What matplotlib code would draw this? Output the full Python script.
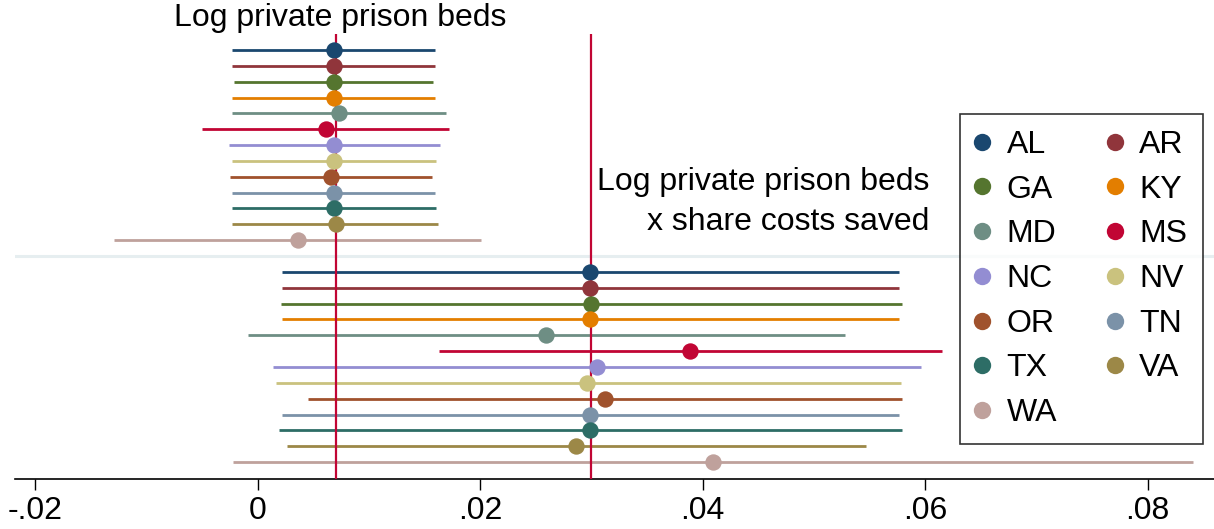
import matplotlib
matplotlib.use("Agg")
import matplotlib.pyplot as plt
from matplotlib.lines import Line2D

plt.rcParams['font.family'] = ['Liberation Sans', 'DejaVu Sans']

states = ["AL", "AR", "GA", "KY", "MD", "MS", "NC", "NV", "OR", "TN", "TX", "VA", "WA"]
colors = ["#1a476f", "#90353b", "#55752f", "#e37e00", "#6e8e84", "#c10534",
          "#938dd2", "#cac27e", "#a0522d", "#7b92a8", "#2d6d66", "#9c8847", "#bfa19c"]

# Coefficient on log private prison beds
beds_b  = [0.0069, 0.0069, 0.0069, 0.0069, 0.0073, 0.0061, 0.0069, 0.0069, 0.0066, 0.0069, 0.0069, 0.0070, 0.0036]
beds_lo = [-0.0023, -0.0023, -0.0021, -0.0023, -0.0023, -0.0050, -0.0026, -0.0023, -0.0025, -0.0023, -0.0023, -0.0023, -0.0129]
beds_hi = [0.0159, 0.0159, 0.0158, 0.0159, 0.0169, 0.0172, 0.0164, 0.0160, 0.0157, 0.0159, 0.0160, 0.0162, 0.0201]

# Coefficient on log private prison beds x share costs saved
inter_b  = [0.0299, 0.0299, 0.0300, 0.0299, 0.0259, 0.0389, 0.0305, 0.0296, 0.0312, 0.0299, 0.0299, 0.0286, 0.0409]
inter_lo = [0.0022, 0.0022, 0.0021, 0.0022, -0.0009, 0.0163, 0.0014, 0.0016, 0.0045, 0.0022, 0.0019, 0.0026, -0.0022]
inter_hi = [0.0576, 0.0576, 0.0579, 0.0576, 0.0528, 0.0615, 0.0596, 0.0578, 0.0579, 0.0576, 0.0579, 0.0547, 0.0841]

# Full-sample estimates shown as reference lines
ref_lines = [0.0070, 0.0300]

xticks = [-0.02, 0, 0.02, 0.04, 0.06, 0.08]
xticklabels = ["-.02", "0", ".02", ".04", ".06", ".08"]

W, H = 1214, 529
fig = plt.figure(figsize=(W / 100, H / 100), dpi=100)
ax = fig.add_axes([15 / W, 1 - 479 / H, 1 - 15 / W, (479 - 34) / H])

FS = 23
n = len(states)
ax.axhline(n, color="#e6eef0", lw=2.2, zorder=1)

for i, (st, c) in enumerate(zip(states, colors)):
    y1 = i
    y2 = n + 1 + i
    ax.plot([beds_lo[i], beds_hi[i]], [y1, y1], color=c, lw=2.0, solid_capstyle="butt", zorder=2)
    ax.plot([inter_lo[i], inter_hi[i]], [y2, y2], color=c, lw=2.0, solid_capstyle="butt", zorder=2)

for xv in ref_lines:
    ax.axvline(xv, color="#c10534", lw=1.6, zorder=3)

for i, (st, c) in enumerate(zip(states, colors)):
    ax.plot([beds_b[i]], [i], "o", color=c, ms=11.8, mew=0, zorder=4)
    ax.plot([inter_b[i]], [n + 1 + i], "o", color=c, ms=11.8, mew=0, zorder=4)

ax.set_xlim((15 - 257.7) / 11125, (1214 - 257.7) / 11125)
ax.set_ylim(27.07, -1.01)

ax.set_xticks(xticks)
ax.set_xticklabels(xticklabels, fontsize=FS)
ax.set_yticks([])
for s in ["left", "top", "right"]:
    ax.spines[s].set_visible(False)
ax.spines["bottom"].set_linewidth(1.2)
ax.tick_params(axis="x", length=8, width=1.0, pad=4, colors="black")

ax.text(0.0074, -2.02, "Log private prison beds", fontsize=FS, ha="center", va="center", clip_on=False)
ax.text(0.0604, 8.35, "Log private prison beds", fontsize=FS, ha="right", va="center")
ax.text(0.0604, 10.85, "x share costs saved", fontsize=FS, ha="right", va="center")

# Row-wise legend order: first column holds AL, GA, MD, ...; second AR, KY, MS, ...
order = list(range(0, n, 2)) + list(range(1, n, 2))
handles = [Line2D([], [], marker="o", ls="none", color=colors[k], ms=12.5, mew=0) for k in order]
labels = [states[k] for k in order]
leg = fig.legend(handles, labels, ncol=2, loc="upper left",
                 bbox_to_anchor=(960 / W, 1 - 114 / H), borderaxespad=0,
                 fontsize=FS, frameon=True, fancybox=False, edgecolor="black",
                 handlelength=0.4, handletextpad=0.56, columnspacing=1.6,
                 labelspacing=0.46, borderpad=0.5)
leg.get_frame().set_linewidth(1.2)

fig.savefig("out.png", dpi=100)
